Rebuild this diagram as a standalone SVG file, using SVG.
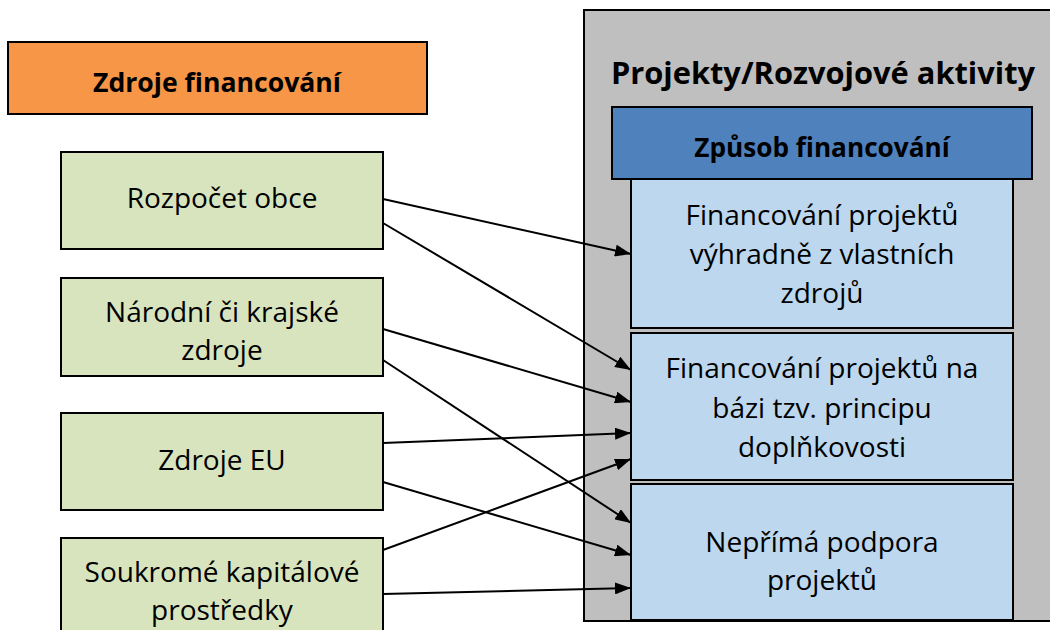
<svg xmlns="http://www.w3.org/2000/svg" width="1050" height="630" viewBox="0 0 1050 630">
<style>
.t{font-family:"Open Sans","Liberation Sans",sans-serif;font-size:28px;fill:#000;text-anchor:middle}
.b{font-weight:bold}
.box{stroke:#000;stroke-width:2}
.g{fill:#D7E4BD}
.lb{fill:#BDD7EE}
.c line{stroke:#000;stroke-width:2;marker-end:url(#ah)}
</style>
<defs>
<marker id="ah" viewBox="0 0 16 12" refX="16" refY="6" markerWidth="16" markerHeight="12" markerUnits="userSpaceOnUse" orient="auto">
<path d="M0,0 L16,6 L0,12 z" fill="#000"/>
</marker>
</defs>
<rect width="1050" height="630" fill="#fff"/>
<g id="zdroje-financovani">
<rect class="box" x="8" y="42" width="419" height="72" fill="#F79646"/>
<text class="t b" x="217" y="92" style="font-size:26.6px">Zdroje financování</text>
</g>
<g id="projekty">
<rect class="box" x="584" y="10" width="470" height="611" fill="#BFBFBF"/>
<text class="t b" x="823" y="84" style="font-size:30.8px">Projekty/Rozvojové aktivity</text>
</g>
<g id="zpusob-financovani">
<rect class="box" x="612" y="107" width="420" height="72" fill="#4F81BD"/>
<text class="t b" x="822" y="157" style="font-size:26.2px">Způsob financování</text>
</g>
<g id="vlastni-zdroje">
<rect class="box lb" x="631" y="179" width="382" height="149"/>
<text class="t" x="822" y="225">Financování projektů</text>
<text class="t" x="822" y="264">výhradně z vlastních</text>
<text class="t" x="822" y="303">zdrojů</text>
</g>
<g id="doplnkovost">
<rect class="box lb" x="631" y="333" width="382" height="147"/>
<text class="t" x="822" y="378">Financování projektů na</text>
<text class="t" x="822" y="418">bázi tzv. principu</text>
<text class="t" x="822" y="457">doplňkovosti</text>
</g>
<g id="neprima-podpora">
<rect class="box lb" x="631" y="484" width="382" height="136"/>
<text class="t" x="822" y="552">Nepřímá podpora</text>
<text class="t" x="822" y="590">projektů</text>
</g>
<g id="rozpocet-obce">
<rect class="box g" x="61" y="152" width="322" height="97"/>
<text class="t" x="222" y="208">Rozpočet obce</text>
</g>
<g id="narodni-krajske">
<rect class="box g" x="61" y="278" width="322" height="98"/>
<text class="t" x="222" y="322">Národní či krajské</text>
<text class="t" x="222" y="360">zdroje</text>
</g>
<g id="zdroje-eu">
<rect class="box g" x="61" y="413" width="322" height="97"/>
<text class="t" x="222" y="470">Zdroje EU</text>
</g>
<g id="soukrome">
<rect class="box g" x="61" y="538" width="322" height="100"/>
<text class="t" x="222" y="582">Soukromé kapitálové</text>
<text class="t" x="222" y="620">prostředky</text>
</g>
<g id="connectors" class="c">
<line x1="383" y1="199" x2="631" y2="254"/>
<line x1="383" y1="223" x2="631" y2="370"/>
<line x1="383" y1="329" x2="631" y2="402"/>
<line x1="383" y1="360" x2="631" y2="523"/>
<line x1="383" y1="443" x2="631" y2="433"/>
<line x1="383" y1="482" x2="631" y2="555"/>
<line x1="383" y1="550" x2="631" y2="459"/>
<line x1="383" y1="594" x2="631" y2="588"/>
</g>
</svg>
